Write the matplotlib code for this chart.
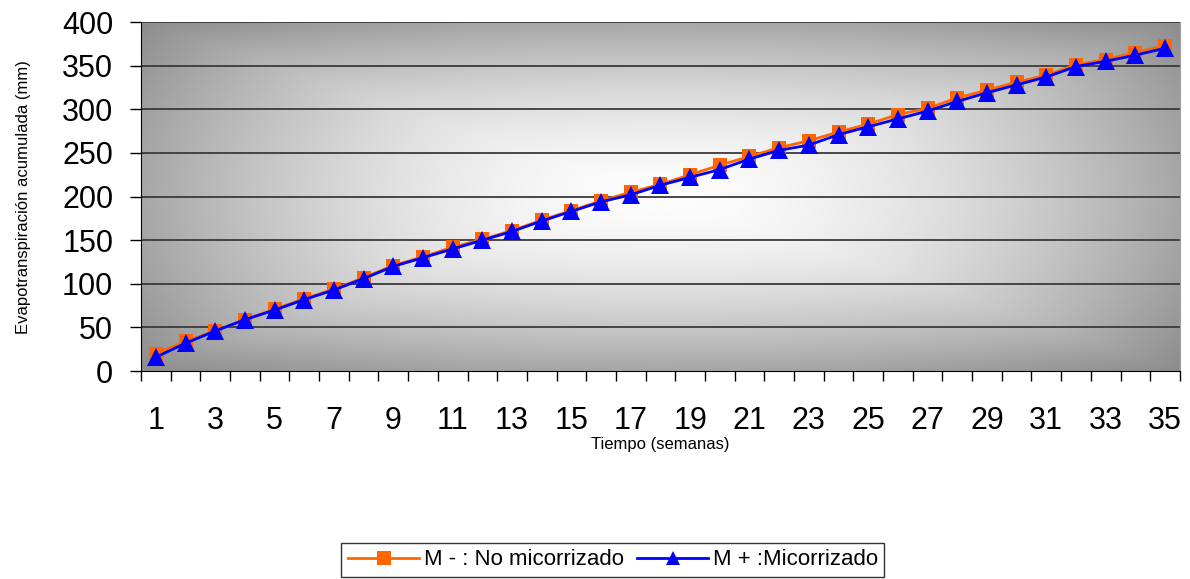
import numpy as np
import matplotlib.pyplot as plt

plt.rcParams['font.family'] = ['Liberation Sans', 'DejaVu Sans']

semanas = list(range(1, 36))
no_micorrizado = [20, 34, 46, 59, 71, 83, 94, 107, 121, 131, 142, 151, 161, 173, 184, 195,
                  205, 214, 225, 236, 246, 256, 264, 274, 283, 294, 301, 313, 322, 331,
                  339, 351, 357, 365, 373]
micorrizado = [16, 32, 46, 59, 70, 82, 93, 106, 120, 130, 140, 150, 160, 172, 183, 194,
               202, 213, 222, 231, 243, 253, 259, 271, 280, 289, 298, 309, 319, 328,
               337, 349, 355, 362, 370]
etiquetas_x = [str(s) for s in semanas[::2]]

fig = plt.figure(figsize=(11.9, 5.79), dpi=100)
ax = fig.add_axes([0.1185, 0.359, 0.873, 0.603])

# gray-to-white gradient from the centre of the plot area
nx, ny = 400, 200
gx, gy = np.meshgrid(np.linspace(-1, 1, nx), np.linspace(-1, 1, ny))
elip = np.sqrt(gx ** 2 + gy ** 2) / np.sqrt(2)
rect = np.maximum(np.abs(gx), np.abs(gy))
d = np.clip(0.5 * elip + 0.5 * rect, 0, 1)
fondo = 0.99 - 0.44 * d ** 1.7
ax.imshow(fondo, cmap='gray', vmin=0, vmax=1, extent=[0.5, 35.5, 0, 400],
          aspect='auto', zorder=0, interpolation='bicubic')

ax.set_xlim(0.5, 35.5)
ax.set_ylim(0, 400)

for y in range(50, 401, 50):
    ax.axhline(y, color='#3a3a3a', lw=1.3, zorder=1)

ax.plot(semanas, no_micorrizado, color='#ff6600', lw=2, marker='s', markersize=10,
        markeredgewidth=0, label='M - : No micorrizado', zorder=3)
ax.plot(semanas, micorrizado, color='#0000ff', lw=2, marker='^', markersize=13,
        markeredgewidth=0, label='M + :Micorrizado', zorder=4)

ax.set_xticks(semanas[::2])
ax.set_xticklabels(etiquetas_x)
ax.set_xticks(np.arange(0.5, 36, 1), minor=True)
ax.tick_params(axis='x', which='major', length=0, pad=25, labelsize=22)
ax.tick_params(axis='x', which='minor', length=7, width=1, direction='out')
ax.set_yticks(range(0, 401, 50))
ax.tick_params(axis='y', length=8, width=1, labelsize=22, pad=12)

ax.spines['top'].set_visible(False)
ax.spines['right'].set_color('#a0a0a0')
ax.spines['left'].set_color('black')
ax.spines['bottom'].set_color('black')

ax.set_xlabel('Tiempo (semanas)', fontsize=12, labelpad=1)
ax.set_ylabel('Evapotranspiración acumulada (mm)', fontsize=12, labelpad=22)

leg = fig.legend(loc='center', bbox_to_anchor=(0.515, 0.033), ncol=2, fontsize=16,
                 frameon=True, fancybox=False, edgecolor='black', handlelength=3.2,
                 columnspacing=0.6, handletextpad=0.2, borderpad=0.3)
leg.get_frame().set_linewidth(1)
for h in leg.legend_handles:
    h.set_markersize(10)

fig.savefig('out.png', dpi=100)
